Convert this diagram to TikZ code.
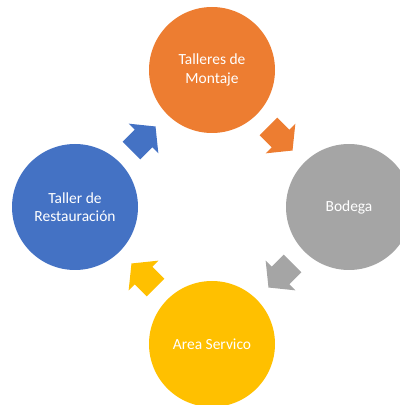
\documentclass[tikz,border=0pt]{standalone}
\usepackage{fontspec}
\setmainfont{Carlito}
\usepackage{xcolor}
\usetikzlibrary{calc}
\definecolor{officeorange}{HTML}{ED7D31}
\definecolor{officegray}{HTML}{A5A5A5}
\definecolor{officegold}{HTML}{FFC000}
\definecolor{officeblue}{HTML}{4472C4}

\begin{document}
\begin{tikzpicture}[
            stage/.style={shape=circle, minimum size=3.15cm, inner sep=0pt, text=white, align=center, font=\fontsize{11}{13}\selectfont},
            pics/blockarrow/.style={code={\fill[#1] (-0.425,-0.3125) -- (0,-0.3125) -- (0,-0.525) -- (0.425,0) -- (0,0.525) -- (0,0.3125) -- (-0.425,0.3125) -- cycle;}}]
        \useasboundingbox (0,0) rectangle (10,10.125);
        \clip (0,0) rectangle (10,10.125);

        \node[stage, fill=officeorange] (mont) at (5.3,8.375) {Talleres de\\Montaje};
        \node[stage, fill=officegray] (bodega) at (8.725,4.95) {Bodega};
        \node[stage, fill=officegold] (servicio) at (5.3,1.525) {Area Servico};
        \node[stage, fill=officeblue] (rest) at (1.875,4.95) {Taller de\\Restauración};

        \pic[rotate=-45] at ($(mont)!0.5!(bodega)$) {blockarrow=officeorange};
        \pic[rotate=-135] at ($(bodega)!0.5!(servicio)$) {blockarrow=officegray};
        \pic[rotate=135] at ($(servicio)!0.5!(rest)$) {blockarrow=officegold};
        \pic[rotate=45] at ($(rest)!0.5!(mont)$) {blockarrow=officeblue};
    \end{tikzpicture}
\end{document}
